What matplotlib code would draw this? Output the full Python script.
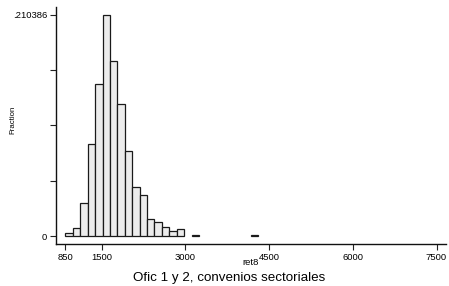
import numpy as np
import matplotlib
matplotlib.use("Agg")
import matplotlib.pyplot as plt

plt.rcParams['font.family'] = ['Liberation Sans', 'DejaVu Sans']

# Data: histogram of ret8 (fraction per bin), 50 bins from 850 to 7500
bin_min = 850
bin_max = 7500
n_bins = 50
fractions = [0.0026, 0.0073, 0.0317, 0.0876, 0.1450, 0.210386, 0.1663, 0.1260,
             0.0809, 0.0464, 0.0395, 0.0159, 0.0130, 0.0090, 0.0050, 0.0064,
             0.0, 0.0008, 0.0, 0.0, 0.0, 0.0, 0.0, 0.0, 0.0, 0.0008] + [0.0] * 24
xticks = [850, 1500, 3000, 4500, 6000, 7500]
ymax_label = 0.210386
xlabel = "ret8"
ylabel = "Fraction"
note = "Ofic 1 y 2, convenios sectoriales"

W, H = 449, 286
fig = plt.figure(figsize=(W/100, H/100), dpi=100)
ax = fig.add_axes([56/W, (H-243.7)/H, (446-56)/W, (243.7-7)/H])

edges = np.linspace(bin_min, bin_max, n_bins + 1)
width = edges[1] - edges[0]
fr = np.array(fractions)
mask = fr > 0
ax.bar(edges[:-1][mask], fr[mask], width=width, align='edge',
       color='#ececec', edgecolor='#1a1a1a', linewidth=0.9)

ax.set_xlim(681, 7670)
ax.set_ylim(-0.00733, 0.2180)

ax.set_xticks(xticks)
ax.set_xticklabels([str(t) for t in xticks], fontsize=6.8)
yt = np.linspace(0, ymax_label, 5)
ax.set_yticks(yt)
ax.set_yticklabels(['0', '', '', '', '.210386'], fontsize=6.8)
ax.tick_params(axis='both', direction='out', length=4.5, width=0.8, color='#222222', pad=2)

for s in ['top', 'right']:
    ax.spines[s].set_visible(False)
for s in ['left', 'bottom']:
    ax.spines[s].set_linewidth(1.0)
    ax.spines[s].set_color('#111111')

fig.text(251/W, (H-265)/H, xlabel, ha='center', va='baseline', fontsize=6.8)
fig.text(12.7/W, (H-120)/H, ylabel, ha='center', va='center', rotation=90, fontsize=5.6)
fig.text(229/W, (H-280.5)/H, note, ha='center', va='baseline', fontsize=9.6)

fig.savefig("out.png", dpi=100)
